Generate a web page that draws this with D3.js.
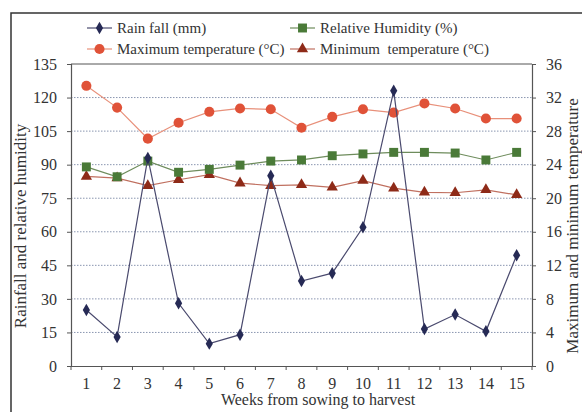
<!DOCTYPE html>
<html>
<head>
<meta charset="utf-8">
<script src="https://cdn.jsdelivr.net/npm/d3@7"></script>
<style>
  body { margin: 0; background: #fff; }
  svg text { font-family: "Liberation Serif", "DejaVu Serif", serif; fill: #333; }
</style>
</head>
<body>
<div id="chart"></div>
<script>
// weeks from sowing to harvest
var weeks = [1, 2, 3, 4, 5, 6, 7, 8, 9, 10, 11, 12, 13, 14, 15];
// left axis series
var rainfall = [25, 13, 93, 28, 10, 14, 85, 38, 41.5, 62, 123, 16.5, 23, 15.5, 49.5];
var humidity = [89, 84.6, 91.6, 86.6, 87.9, 89.8, 91.6, 92.1, 94, 94.8, 95.5, 95.5, 95.2, 92.1, 95.5];
// right axis series
var maxTemp = [33.4, 30.8, 27.1, 29.0, 30.3, 30.7, 30.6, 28.4, 29.7, 30.6, 30.2, 31.3, 30.7, 29.5, 29.5];
var minTemp = [22.6, 22.4, 21.5, 22.2, 22.8, 21.8, 21.5, 21.6, 21.3, 22.1, 21.2, 20.7, 20.65, 21.0, 20.4];
var leftTicks = [0, 15, 30, 45, 60, 75, 90, 105, 120, 135];
var rightTicks = [0, 4, 8, 12, 16, 20, 24, 28, 32, 36];

var W = 582, H = 412;
var pL = 71, pR = 532, pT = 64, pB = 366;

var svg = d3.select("#chart").append("svg")
  .attr("width", W).attr("height", H);

// outer frame
svg.append("rect")
  .attr("x", 11).attr("y", 13).attr("width", 600).attr("height", 420)
  .attr("fill", "none").attr("stroke", "#333").attr("stroke-width", 1.5);

var x = d3.scaleBand().domain(weeks).range([pL, pR]);
var yL = d3.scaleLinear().domain([0, 135]).range([pB, pT]);
var yR = d3.scaleLinear().domain([0, 36]).range([pB, pT]);

// gridlines
svg.append("g").selectAll("line")
  .data(leftTicks.filter(function(d){ return d > 0 && d < 135; }))
  .enter().append("line")
  .attr("x1", pL).attr("x2", pR)
  .attr("y1", function(d){ return yL(d); }).attr("y2", function(d){ return yL(d); })
  .attr("stroke", "#8a96b0").attr("stroke-width", 1).attr("stroke-dasharray", "1.5,1.5");

// plot box top
svg.append("line").attr("x1", pL).attr("x2", pR).attr("y1", pT).attr("y2", pT)
  .attr("stroke", "#555").attr("stroke-width", 1);

var axL = svg.append("g").attr("transform", "translate(" + pL + ",0)")
  .call(d3.axisLeft(yL).tickValues(leftTicks).tickSize(4).tickPadding(10));
var axR = svg.append("g").attr("transform", "translate(" + pR + ",0)")
  .call(d3.axisRight(yR).tickValues(rightTicks).tickSize(4).tickPadding(10));
var axB = svg.append("g").attr("transform", "translate(0," + pB + ")")
  .call(d3.axisBottom(x).tickSize(0).tickPadding(12));

// x ticks sit between the weeks
svg.append("g").selectAll("line")
  .data(d3.range(weeks.length + 1))
  .enter().append("line")
  .attr("x1", function(i){ return pL + i * x.step(); })
  .attr("x2", function(i){ return pL + i * x.step(); })
  .attr("y1", pB).attr("y2", pB + 4)
  .attr("stroke", "#555");

[axL, axR, axB].forEach(function(a) {
  a.selectAll("path.domain").attr("stroke", "#555").attr("stroke-width", 1.2);
  a.selectAll(".tick line").attr("stroke", "#555");
  a.selectAll("text").style("font-family", "Liberation Serif, serif").style("font-size", "16px").attr("fill", "#444");
});

function cx(d, i) { return x(weeks[i]) + x.bandwidth() / 2; }

var series = [
  {name: "Rain fall (mm)", values: rainfall, y: yL, line: "#4a4a6e", fill: "#262a55", shape: d3.symbolDiamond, size: 45},
  {name: "Relative Humidity (%)", values: humidity, y: yL, line: "#6e8c5c", fill: "#4a7a38", shape: d3.symbolSquare, size: 80},
  {name: "Maximum temperature (\u00B0C)", values: maxTemp, y: yR, line: "#e8907a", fill: "#e05238", shape: d3.symbolCircle, size: 80},
  {name: "Minimum  temperature (\u00B0C)", values: minTemp, y: yR, line: "#c07060", fill: "#8e2a18", shape: d3.symbolTriangle, size: 55}
];

var drawOrder = [2, 3, 1, 0];
drawOrder.forEach(function(k) {
  var s = series[k];
  var line = d3.line().x(cx).y(function(d){ return s.y(d); });
  svg.append("path").datum(s.values)
    .attr("d", line).attr("fill", "none")
    .attr("stroke", s.line).attr("stroke-width", 1.2);
  svg.append("g").selectAll("path")
    .data(s.values).enter().append("path")
    .attr("d", d3.symbol().type(s.shape).size(s.size))
    .attr("transform", function(d, i){ return "translate(" + cx(d, i) + "," + s.y(d) + ")"; })
    .attr("fill", s.fill);
});

// legend
var legendPos = [[87, 28], [290, 28], [87, 49], [290, 49]];
series.forEach(function(s, k) {
  var p = legendPos[k];
  var g = svg.append("g").attr("transform", "translate(" + p[0] + "," + p[1] + ")");
  g.append("line").attr("x1", 0).attr("x2", 25).attr("y1", 0).attr("y2", 0)
    .attr("stroke", s.line).attr("stroke-width", 1.2);
  g.append("path").attr("d", d3.symbol().type(s.shape).size(s.size))
    .attr("transform", "translate(12.5,0)").attr("fill", s.fill);
  g.append("text").attr("x", 30).attr("y", 5)
    .style("font-size", "15px")
    .attr("xml:space", "preserve").text(s.name);
});

// axis titles
svg.append("text").attr("x", 318).attr("y", 405).attr("text-anchor", "middle")
  .style("font-size", "16px").text("Weeks from sowing to harvest");
svg.append("text").attr("transform", "translate(26,226) rotate(-90)").attr("text-anchor", "middle")
  .style("font-size", "17px").text("Rainfall and relative humidity");
svg.append("text").attr("transform", "translate(578,226) rotate(-90)").attr("text-anchor", "middle")
  .style("font-size", "17px").text("Maximum and minimum temperature");
</script>
</body>
</html>
